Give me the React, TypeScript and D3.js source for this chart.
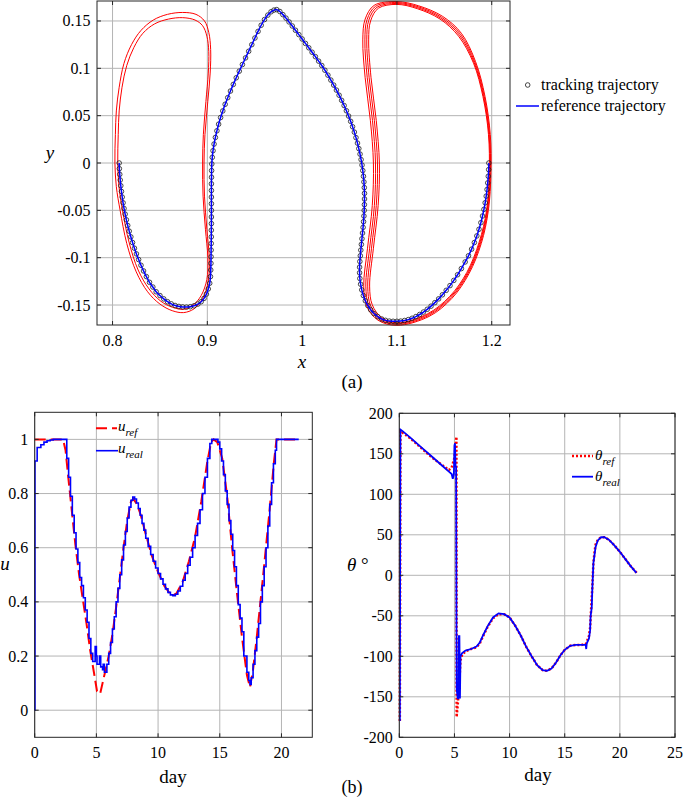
import React, { useEffect, useRef } from 'react';
import * as d3 from 'd3';

type P = [number, number];

const FONT = 'Liberation Serif';

// ---- panel (a): x-y plane ----
const xyXTicks = [0.8, 0.9, 1, 1.1, 1.2];
const xyYTicks = [-0.15, -0.1, -0.05, 0, 0.05, 0.1, 0.15];

// reference trajectory (tracking markers sit on the same samples)
const trajectory: P[] = [
  [0.8070, 0.000], [0.8072, -0.006], [0.8076, -0.012], [0.8081, -0.018], [0.8087, -0.024], [0.8094, -0.030],
  [0.8102, -0.036], [0.8111, -0.042], [0.8121, -0.048], [0.8133, -0.054], [0.8146, -0.060], [0.8160, -0.066],
  [0.8176, -0.072], [0.8193, -0.078], [0.8211, -0.084], [0.8231, -0.090], [0.8252, -0.096], [0.8275, -0.102],
  [0.8300, -0.108], [0.8327, -0.114], [0.8357, -0.120], [0.8390, -0.126], [0.8425, -0.131], [0.8460, -0.136],
  [0.8500, -0.140], [0.8540, -0.1435], [0.8580, -0.1465], [0.8620, -0.1488], [0.8660, -0.1505], [0.8700, -0.1515],
  [0.8740, -0.1520], [0.8780, -0.1522], [0.8820, -0.1518], [0.8860, -0.1508], [0.8900, -0.1490], [0.8935, -0.1465],
  [0.8965, -0.1430], [0.8990, -0.1385], [0.9010, -0.1330], [0.9025, -0.1270], [0.9033, -0.1200], [0.9036, -0.113],
  [0.9038, -0.106], [0.9039, -0.099], [0.9040, -0.092], [0.9041, -0.085], [0.9042, -0.078], [0.9042, -0.071],
  [0.9043, -0.064], [0.9043, -0.057], [0.9043, -0.050], [0.9043, -0.043], [0.9043, -0.036], [0.9043, -0.029],
  [0.9043, -0.022], [0.9044, -0.015], [0.9045, -0.008], [0.9047, -0.001], [0.9052, 0.006], [0.9060, 0.013],
  [0.9071, 0.020], [0.9085, 0.027], [0.9101, 0.034], [0.9119, 0.041], [0.9140, 0.048], [0.9163, 0.055],
  [0.9188, 0.062], [0.9215, 0.069], [0.9244, 0.076], [0.9274, 0.083], [0.9305, 0.090], [0.9337, 0.097],
  [0.9370, 0.104], [0.9403, 0.111], [0.9436, 0.118], [0.9469, 0.125], [0.9502, 0.132], [0.9535, 0.139],
  [0.9568, 0.1455], [0.9603, 0.1515], [0.9638, 0.1562], [0.9672, 0.1597], [0.9703, 0.1615], [0.9732, 0.1620],
  [0.9765, 0.1600], [0.9797, 0.1567], [0.9830, 0.1530], [0.9862, 0.1490], [0.9896, 0.1447], [0.9930, 0.1402],
  [0.9965, 0.1356], [1.0000, 0.1310], [1.0035, 0.1263], [1.0070, 0.1217], [1.0105, 0.1170], [1.0140, 0.1123],
  [1.0174, 0.1076], [1.0207, 0.1030], [1.0240, 0.0980], [1.0272, 0.0928], [1.0303, 0.0876], [1.0333, 0.0823],
  [1.0362, 0.0770], [1.0390, 0.0716], [1.0417, 0.0662], [1.0443, 0.0607], [1.0467, 0.0552], [1.0490, 0.0496],
  [1.0512, 0.0440], [1.0532, 0.0383], [1.0551, 0.0326], [1.0568, 0.0268], [1.0584, 0.0210], [1.0598, 0.0152],
  [1.0611, 0.0094], [1.0622, 0.0036], [1.0632, -0.0022], [1.0640, -0.0080], [1.0647, -0.0140], [1.0652, -0.0200],
  [1.0656, -0.0260], [1.0658, -0.0320], [1.0658, -0.0380], [1.0657, -0.0440], [1.0655, -0.0500], [1.0652, -0.0560],
  [1.0648, -0.0620], [1.0643, -0.0680], [1.0637, -0.0740], [1.0631, -0.0800], [1.0625, -0.0860], [1.0619, -0.0920],
  [1.0614, -0.0980], [1.0609, -0.1040], [1.0606, -0.1100], [1.0606, -0.1160], [1.0609, -0.1220], [1.0617, -0.1280],
  [1.0629, -0.1340], [1.0646, -0.1400], [1.0667, -0.1455], [1.0693, -0.1505], [1.0723, -0.1550], [1.0758, -0.1590],
  [1.0798, -0.1623], [1.0840, -0.1648], [1.0880, -0.1662], [1.0920, -0.1670], [1.0960, -0.1672], [1.1000, -0.1672],
  [1.1040, -0.1670], [1.1080, -0.1664], [1.1120, -0.1654], [1.1160, -0.1640], [1.1200, -0.1622], [1.1240, -0.1600],
  [1.1280, -0.1574], [1.1320, -0.1545], [1.1360, -0.1512], [1.1400, -0.1475], [1.1440, -0.1435], [1.1480, -0.1392],
  [1.1520, -0.1345], [1.1560, -0.1295], [1.1600, -0.1240], [1.1640, -0.1180], [1.1680, -0.1115], [1.1720, -0.1045],
  [1.1755, -0.0980], [1.1788, -0.0910], [1.1817, -0.0840], [1.1843, -0.0770], [1.1866, -0.0700], [1.1886, -0.0630],
  [1.1903, -0.0560], [1.1918, -0.0490], [1.1931, -0.0420], [1.1942, -0.0350], [1.1951, -0.0280], [1.1958, -0.0210],
  [1.1964, -0.0140], [1.1968, -0.0070], [1.1970, 0.0000],
];

// periodic orbits (red)
const leftOrbitOuter: P[] = [
  [0.8025, 0.000], [0.8030, 0.030], [0.8040, 0.055], [0.8070, 0.080], [0.8120, 0.105], [0.8200, 0.125],
  [0.8300, 0.140], [0.8430, 0.151], [0.8580, 0.157], [0.8740, 0.159], [0.8880, 0.157], [0.8970, 0.150],
  [0.9015, 0.138], [0.9035, 0.120], [0.9030, 0.095], [0.9005, 0.065], [0.8975, 0.030], [0.8965, 0.000],
  [0.8970, -0.035], [0.8995, -0.070], [0.9020, -0.100], [0.9010, -0.125], [0.8950, -0.143], [0.8860, -0.154],
  [0.8750, -0.158], [0.8630, -0.156], [0.8500, -0.149], [0.8370, -0.136], [0.8250, -0.115], [0.8150, -0.085],
  [0.8080, -0.050], [0.8040, -0.025],
];
const leftOrbitInner: P[] = [
  [0.8055, 0.000], [0.8060, 0.030], [0.8070, 0.055], [0.8100, 0.080], [0.8150, 0.103], [0.8225, 0.122],
  [0.8320, 0.137], [0.8445, 0.147], [0.8590, 0.152], [0.8740, 0.1535], [0.8870, 0.151], [0.8950, 0.145],
  [0.8995, 0.134], [0.9015, 0.118], [0.9010, 0.095], [0.8985, 0.065], [0.8958, 0.030], [0.8950, 0.000],
  [0.8955, -0.035], [0.8980, -0.070], [0.9005, -0.100], [0.8995, -0.123], [0.8935, -0.140], [0.8850, -0.150],
  [0.8750, -0.1545], [0.8635, -0.1525], [0.8510, -0.146], [0.8385, -0.133], [0.8270, -0.113], [0.8175, -0.084],
  [0.8105, -0.050], [0.8068, -0.025],
];
const rightOrbitA: P[] = [
  [1.1000, 0.1705], [1.1230, 0.1660], [1.1480, 0.1550], [1.1680, 0.1370], [1.1830, 0.1070], [1.1930, 0.0700],
  [1.1985, 0.0300], [1.1992, -0.0100], [1.1965, -0.0500], [1.1890, -0.0850], [1.1760, -0.1170], [1.1580, -0.1430],
  [1.1340, -0.1620], [1.1000, -0.1715], [1.0800, -0.1660], [1.0685, -0.1520], [1.0650, -0.1300], [1.0690, -0.0900],
  [1.0740, -0.0450], [1.0752, 0.0000], [1.0720, 0.0450], [1.0665, 0.0900], [1.0640, 0.1300], [1.0665, 0.1520],
  [1.0760, 0.1665],
];
const rightOrbitB: P[] = [
  [1.1000, 0.1695], [1.1225, 0.1650], [1.1470, 0.1540], [1.1670, 0.1360], [1.1822, 0.1065], [1.1922, 0.0700],
  [1.1978, 0.0300], [1.1986, -0.0100], [1.1958, -0.0500], [1.1882, -0.0845], [1.1752, -0.1165], [1.1572, -0.1422],
  [1.1335, -0.1610], [1.1000, -0.1705], [1.0812, -0.1650], [1.0705, -0.1512], [1.0672, -0.1300], [1.0712, -0.0900],
  [1.0762, -0.0450], [1.0774, 0.0000], [1.0742, 0.0450], [1.0687, 0.0900], [1.0662, 0.1300], [1.0685, 0.1515],
  [1.0775, 0.1655],
];
const rightOrbitC: P[] = [
  [1.1000, 0.1685], [1.1220, 0.1640], [1.1462, 0.1530], [1.1660, 0.1350], [1.1815, 0.1060], [1.1915, 0.0700],
  [1.1972, 0.0300], [1.1980, -0.0100], [1.1952, -0.0500], [1.1875, -0.0840], [1.1745, -0.1160], [1.1565, -0.1415],
  [1.1330, -0.1600], [1.1000, -0.1695], [1.0825, -0.1640], [1.0722, -0.1505], [1.0692, -0.1300], [1.0732, -0.0900],
  [1.0782, -0.0450], [1.0795, 0.0000], [1.0762, 0.0450], [1.0707, 0.0900], [1.0682, 0.1300], [1.0703, 0.1508],
  [1.0790, 0.1645],
];
const rightOrbitD: P[] = [
  [1.1000, 0.1675], [1.1215, 0.1630], [1.1455, 0.1520], [1.1650, 0.1340], [1.1808, 0.1055], [1.1908, 0.0700],
  [1.1966, 0.0300], [1.1974, -0.0100], [1.1946, -0.0500], [1.1868, -0.0835], [1.1738, -0.1155], [1.1558, -0.1408],
  [1.1325, -0.1592], [1.1000, -0.1688], [1.0838, -0.1632], [1.0740, -0.1498], [1.0712, -0.1300], [1.0752, -0.0900],
  [1.0802, -0.0450], [1.0815, 0.0000], [1.0782, 0.0450], [1.0727, 0.0900], [1.0702, 0.1300], [1.0722, 0.1500],
  [1.0805, 0.1635],
];
const orbits = [leftOrbitOuter, leftOrbitInner, rightOrbitA, rightOrbitB, rightOrbitC, rightOrbitD];

// ---- panel (b) left: control u ----
const dayTicksU = [0, 5, 10, 15, 20];
const uTicks = [0, 0.2, 0.4, 0.6, 0.8, 1];
const uRef: P[] = [
  [0, 1.0], [2.3, 1.0], [2.5, 0.96], [2.7, 0.87], [3.0, 0.74], [3.3, 0.61], [3.6, 0.5], [3.9, 0.41], [4.2, 0.32],
  [4.5, 0.22], [4.8, 0.14], [5.05, 0.07], [5.3, 0.06], [5.5, 0.1], [5.75, 0.15], [6.0, 0.2], [6.3, 0.28], [6.6, 0.38],
  [6.9, 0.49], [7.2, 0.6], [7.5, 0.7], [7.8, 0.77], [8.0, 0.78], [8.3, 0.76], [8.6, 0.72], [9.0, 0.65], [9.5, 0.57],
  [10.0, 0.51], [10.5, 0.46], [11.0, 0.428], [11.2, 0.423], [11.5, 0.432], [12.0, 0.475], [12.5, 0.55], [13.0, 0.64],
  [13.5, 0.77], [14.0, 0.92], [14.3, 0.99], [14.5, 1.0], [14.8, 0.99], [15.2, 0.93], [15.6, 0.79], [16.0, 0.6],
  [16.4, 0.43], [16.8, 0.27], [17.2, 0.13], [17.45, 0.085], [17.7, 0.15], [18.0, 0.27], [18.5, 0.49], [19.0, 0.72],
  [19.4, 0.92], [19.6, 1.0], [21.4, 1.0],
];
const uReal: P[] = [
  [0, 0], [0.02, 0.92], [0.2, 0.97], [0.5, 0.98], [0.75, 0.99], [1.0, 0.995], [1.25, 0.998], [1.5, 1.0], [2.0, 1.0],
  [2.45, 1.0], [2.6, 0.93], [2.75, 0.86], [2.9, 0.79], [3.05, 0.72], [3.2, 0.655], [3.35, 0.595], [3.5, 0.545],
  [3.65, 0.49], [3.8, 0.46], [3.95, 0.415], [4.1, 0.37], [4.25, 0.325], [4.4, 0.265], [4.55, 0.21], [4.7, 0.18],
  [4.85, 0.18], [4.9, 0.235], [5.0, 0.2], [5.05, 0.17], [5.2, 0.17], [5.25, 0.2], [5.35, 0.16], [5.5, 0.15],
  [5.55, 0.17], [5.65, 0.14], [5.8, 0.14], [5.85, 0.17], [6.0, 0.21], [6.15, 0.25], [6.3, 0.3], [6.45, 0.345],
  [6.6, 0.4], [6.75, 0.45], [6.9, 0.5], [7.05, 0.555], [7.2, 0.61], [7.35, 0.66], [7.5, 0.71], [7.65, 0.75],
  [7.8, 0.775], [7.95, 0.787], [8.1, 0.78], [8.25, 0.765], [8.4, 0.745], [8.55, 0.72], [8.7, 0.69], [8.85, 0.665],
  [9.0, 0.635], [9.2, 0.605], [9.4, 0.575], [9.6, 0.55], [9.8, 0.525], [10.0, 0.505], [10.2, 0.485], [10.4, 0.465],
  [10.6, 0.448], [10.8, 0.435], [11.0, 0.426], [11.2, 0.423], [11.4, 0.428], [11.6, 0.44], [11.8, 0.458],
  [12.0, 0.48], [12.2, 0.505], [12.4, 0.535], [12.6, 0.565], [12.8, 0.6], [13.0, 0.645], [13.2, 0.69], [13.4, 0.74],
  [13.6, 0.8], [13.8, 0.86], [14.0, 0.93], [14.2, 0.985], [14.35, 1.0], [14.7, 1.0], [14.85, 0.99], [15.0, 0.965],
  [15.15, 0.92], [15.3, 0.87], [15.45, 0.81], [15.6, 0.76], [15.75, 0.7], [15.9, 0.65], [16.05, 0.59], [16.2, 0.53],
  [16.35, 0.46], [16.5, 0.39], [16.65, 0.34], [16.8, 0.29], [16.95, 0.2], [17.1, 0.2], [17.2, 0.14], [17.35, 0.11],
  [17.45, 0.095], [17.55, 0.12], [17.7, 0.17], [17.85, 0.22], [18.0, 0.27], [18.15, 0.32], [18.3, 0.4],
  [18.45, 0.46], [18.6, 0.53], [18.75, 0.6], [18.9, 0.68], [19.05, 0.76], [19.2, 0.84], [19.35, 0.91], [19.5, 0.96],
  [19.6, 1.0], [21.4, 1.0],
];

// ---- panel (b) right: angle theta ----
const dayTicksT = [0, 5, 10, 15, 20, 25];
const thetaTicks = [-200, -150, -100, -50, 0, 50, 100, 150, 200];
const thetaRef: P[] = [
  [0.05, -180], [0.1, 178], [0.3, 176], [1.0, 169], [2.0, 157], [3.0, 145], [4.0, 135], [4.5, 130], [4.75, 133],
  [5.0, 145], [5.1, 160], [5.18, 171], [5.2, -175], [5.3, -160], [5.45, -130], [5.55, -105], [5.7, -98], [6.0, -94],
  [6.5, -91], [7.0, -89], [7.3, -84], [7.6, -75], [8.0, -64], [8.5, -53], [9.0, -48], [9.5, -48], [10.0, -52],
  [10.5, -62], [11.0, -74], [11.5, -88], [12.0, -100], [12.5, -111], [13.0, -117], [13.4, -118], [13.8, -115],
  [14.2, -108], [14.6, -99], [15.0, -92], [15.5, -87], [16.0, -86], [16.5, -86], [16.9, -85], [17.0, -82],
  [17.2, -75], [17.3, -65], [17.4, -40], [17.5, -15], [17.6, 15], [17.7, 28], [17.8, 38], [18.0, 44], [18.3, 47],
  [18.6, 47], [19.0, 44], [19.5, 37], [20.0, 29], [20.5, 20], [21.0, 11], [21.6, 2],
];
const thetaReal: P[] = [
  [0.05, -180], [0.1, 180], [0.3, 178], [1.0, 170], [2.0, 158], [3.0, 146], [4.0, 134], [4.5, 128], [4.75, 125],
  [4.85, 119], [4.95, 125], [5.0, 160], [5.05, 163], [5.1, 135], [5.15, 134], [5.2, -140], [5.3, -152],
  [5.35, -152], [5.4, -75], [5.45, -75], [5.5, -152], [5.55, -100], [5.7, -96], [6.0, -93], [6.5, -91], [7.0, -88],
  [7.3, -83], [7.6, -74], [8.0, -63], [8.5, -52], [9.0, -47], [9.5, -48], [10.0, -52], [10.5, -62], [11.0, -74],
  [11.5, -88], [12.0, -100], [12.5, -111], [13.0, -117], [13.4, -118], [13.8, -115], [14.2, -108], [14.6, -99],
  [15.0, -92], [15.5, -87], [16.0, -86], [16.5, -86], [16.9, -86], [16.95, -91], [17.0, -84], [17.2, -78],
  [17.3, -68], [17.35, -50], [17.45, -40], [17.5, -18], [17.6, 15], [17.7, 25], [17.8, 35], [18.0, 43], [18.3, 47],
  [18.6, 47], [19.0, 44], [19.5, 37], [20.0, 29], [20.5, 20], [21.0, 11], [21.5, 3],
];

function drawGrid(g: any, x: any, y: any, xTicks: number[], yTicks: number[]) {
  const [l, r] = x.range();
  const [b, t] = y.range();
  const grid = g.append('g').attr('stroke', '#b4b4b4').attr('stroke-width', 1);
  grid.append('g').selectAll('line').data(xTicks).join('line')
    .attr('x1', (d: number) => x(d)).attr('x2', (d: number) => x(d)).attr('y1', t).attr('y2', b);
  grid.append('g').selectAll('line').data(yTicks).join('line')
    .attr('x1', l).attr('x2', r).attr('y1', (d: number) => y(d)).attr('y2', (d: number) => y(d));
}

function drawBox(g: any, x: any, y: any, xTicks: number[], yTicks: number[]) {
  const [l, r] = x.range();
  const [b, t] = y.range();
  const ax = g.append('g').attr('stroke', '#262626').attr('stroke-width', 1).attr('fill', 'none');
  ax.append('rect').attr('x', l).attr('y', t).attr('width', r - l).attr('height', b - t);
  // inward ticks on all four sides
  ax.append('g').selectAll('path').data(xTicks).join('path')
    .attr('d', (d: number) => `M${x(d)},${b}v-4M${x(d)},${t}v4`);
  ax.append('g').selectAll('path').data(yTicks).join('path')
    .attr('d', (d: number) => `M${l},${y(d)}h4M${r},${y(d)}h-4`);
  const lab = g.append('g').attr('font-size', 16).attr('fill', '#000');
  lab.append('g').selectAll('text').data(xTicks).join('text')
    .attr('x', (d: number) => x(d)).attr('y', b + 21).attr('text-anchor', 'middle')
    .text((d: number) => String(d));
  lab.append('g').selectAll('text').data(yTicks).join('text')
    .attr('x', l - 6.5).attr('y', (d: number) => y(d) + 5.5).attr('text-anchor', 'end')
    .text((d: number) => String(d));
}

function App() {
  const svgRef = useRef<SVGSVGElement | null>(null);

  useEffect(() => {
    if (!svgRef.current) return;
    const svg = d3.select(svgRef.current);
    svg.selectAll('*').remove();

    // ---------- (a) ----------
    const xA = d3.scaleLinear().domain([0.7836, 1.2193]).range([97, 510]);
    const yA = d3.scaleLinear().domain([-0.1711, 0.1711]).range([325, 1]);
    const gA = svg.append('g');
    drawGrid(gA, xA, yA, xyXTicks, xyYTicks);

    const closed = d3.line<P>().x(d => xA(d[0])).y(d => yA(d[1])).curve(d3.curveCatmullRomClosed);
    gA.append('g').selectAll('path').data(orbits).join('path')
      .attr('d', (d: P[]) => closed(d))
      .attr('fill', 'none').attr('stroke', '#ff0000').attr('stroke-width', 1);

    gA.append('g').selectAll('circle').data(trajectory).join('circle')
      .attr('cx', d => xA(d[0])).attr('cy', d => yA(d[1])).attr('r', 2.3)
      .attr('fill', 'none').attr('stroke', '#1a1a1a').attr('stroke-width', 0.8);

    const open = d3.line<P>().x(d => xA(d[0])).y(d => yA(d[1])).curve(d3.curveCatmullRom);
    gA.append('path').attr('d', open(trajectory))
      .attr('fill', 'none').attr('stroke', '#0000ff').attr('stroke-width', 1.5);

    drawBox(gA, xA, yA, xyXTicks, xyYTicks);

    gA.append('text').attr('x', 302).attr('y', 368).attr('text-anchor', 'middle')
      .attr('font-size', 19).attr('font-style', 'italic').text('x');
    gA.append('text').attr('x', 50).attr('y', 159).attr('text-anchor', 'middle')
      .attr('font-size', 19).attr('font-style', 'italic').text('y');

    // legend (a)
    const legA = gA.append('g').attr('font-size', 16);
    legA.append('circle').attr('cx', 527.7).attr('cy', 85).attr('r', 2.3)
      .attr('fill', 'none').attr('stroke', '#1a1a1a').attr('stroke-width', 0.8);
    legA.append('text').attr('x', 541).attr('y', 90).text('tracking trajectory');
    legA.append('line').attr('x1', 516).attr('x2', 539).attr('y1', 106).attr('y2', 106)
      .attr('stroke', '#0000ff').attr('stroke-width', 1.5);
    legA.append('text').attr('x', 541).attr('y', 111).text('reference trajectory');

    svg.append('text').attr('x', 352).attr('y', 388).attr('text-anchor', 'middle')
      .attr('font-size', 19).text('(a)');

    // ---------- (b) left ----------
    const xU = d3.scaleLinear().domain([0, 22.5]).range([34.7, 312.3]);
    const yU = d3.scaleLinear().domain([-0.1, 1.1]).range([737.3, 412.3]);
    const gU = svg.append('g');
    drawGrid(gU, xU, yU, dayTicksU, uTicks);

    gU.append('path')
      .attr('d', d3.line<P>().x(d => xU(d[0])).y(d => yU(d[1]))(uRef))
      .attr('fill', 'none').attr('stroke', '#ff0000').attr('stroke-width', 2)
      .attr('stroke-dasharray', '11,5');
    gU.append('path')
      .attr('d', d3.line<P>().x(d => xU(d[0])).y(d => yU(d[1])).curve(d3.curveStepAfter)(uReal))
      .attr('fill', 'none').attr('stroke', '#0000ff').attr('stroke-width', 1.6);

    drawBox(gU, xU, yU, dayTicksU, uTicks);

    gU.append('text').attr('x', 5).attr('y', 570).attr('text-anchor', 'middle')
      .attr('font-size', 19).attr('font-style', 'italic').text('u');
    gU.append('text').attr('x', 173).attr('y', 783).attr('text-anchor', 'middle')
      .attr('font-size', 19).text('day');

    const legU = gU.append('g').attr('font-style', 'italic');
    legU.append('line').attr('x1', 96).attr('x2', 117).attr('y1', 428.3).attr('y2', 428.3)
      .attr('stroke', '#ff0000').attr('stroke-width', 2).attr('stroke-dasharray', '11,5');
    const tU1 = legU.append('text').attr('x', 118).attr('y', 431).attr('font-size', 15);
    tU1.append('tspan').text('u');
    tU1.append('tspan').attr('font-size', 11).attr('dy', 5).text('ref');
    legU.append('line').attr('x1', 96).attr('x2', 118).attr('y1', 450.7).attr('y2', 450.7)
      .attr('stroke', '#0000ff').attr('stroke-width', 1.6);
    const tU2 = legU.append('text').attr('x', 118).attr('y', 453).attr('font-size', 15);
    tU2.append('tspan').text('u');
    tU2.append('tspan').attr('font-size', 11).attr('dy', 5).text('real');

    // ---------- (b) right ----------
    const xT = d3.scaleLinear().domain([0, 25]).range([399.3, 675]);
    const yT = d3.scaleLinear().domain([-200, 200]).range([737.3, 413.3]);
    const gT = svg.append('g');
    drawGrid(gT, xT, yT, dayTicksT, thetaTicks);

    gT.append('path')
      .attr('d', d3.line<P>().x(d => xT(d[0])).y(d => yT(d[1]))(thetaRef))
      .attr('fill', 'none').attr('stroke', '#ff0000').attr('stroke-width', 2.5)
      .attr('stroke-dasharray', '2,2');
    gT.append('path')
      .attr('d', d3.line<P>().x(d => xT(d[0])).y(d => yT(d[1]))(thetaReal))
      .attr('fill', 'none').attr('stroke', '#0000ff').attr('stroke-width', 1.8);

    drawBox(gT, xT, yT, dayTicksT, thetaTicks);

    const thLab = gT.append('text').attr('x', 347).attr('y', 571).attr('font-size', 19);
    thLab.append('tspan').attr('font-style', 'italic').text('θ');
    thLab.append('tspan').text(' °');
    gT.append('text').attr('x', 538).attr('y', 781).attr('text-anchor', 'middle')
      .attr('font-size', 19).text('day');

    const legT = gT.append('g').attr('font-style', 'italic');
    legT.append('line').attr('x1', 572).attr('x2', 593).attr('y1', 456).attr('y2', 456)
      .attr('stroke', '#ff0000').attr('stroke-width', 2.5).attr('stroke-dasharray', '2,2');
    const tT1 = legT.append('text').attr('x', 595).attr('y', 460).attr('font-size', 15);
    tT1.append('tspan').text('θ');
    tT1.append('tspan').attr('font-size', 11).attr('dy', 5).text('ref');
    legT.append('line').attr('x1', 572).attr('x2', 593).attr('y1', 476.7).attr('y2', 476.7)
      .attr('stroke', '#0000ff').attr('stroke-width', 1.8);
    const tT2 = legT.append('text').attr('x', 595).attr('y', 481).attr('font-size', 15);
    tT2.append('tspan').text('θ');
    tT2.append('tspan').attr('font-size', 11).attr('dy', 5).text('real');

    svg.append('text').attr('x', 352).attr('y', 793).attr('text-anchor', 'middle')
      .attr('font-size', 18).text('(b)');

    // serif face on every label
    svg.selectAll('text').style('font-family', FONT);
  }, []);

  return (
    <svg ref={svgRef} width={685} height={798}
      style={{ position: 'absolute', left: 0, top: 0, background: '#fff' }} />
  );
}

export default App;
